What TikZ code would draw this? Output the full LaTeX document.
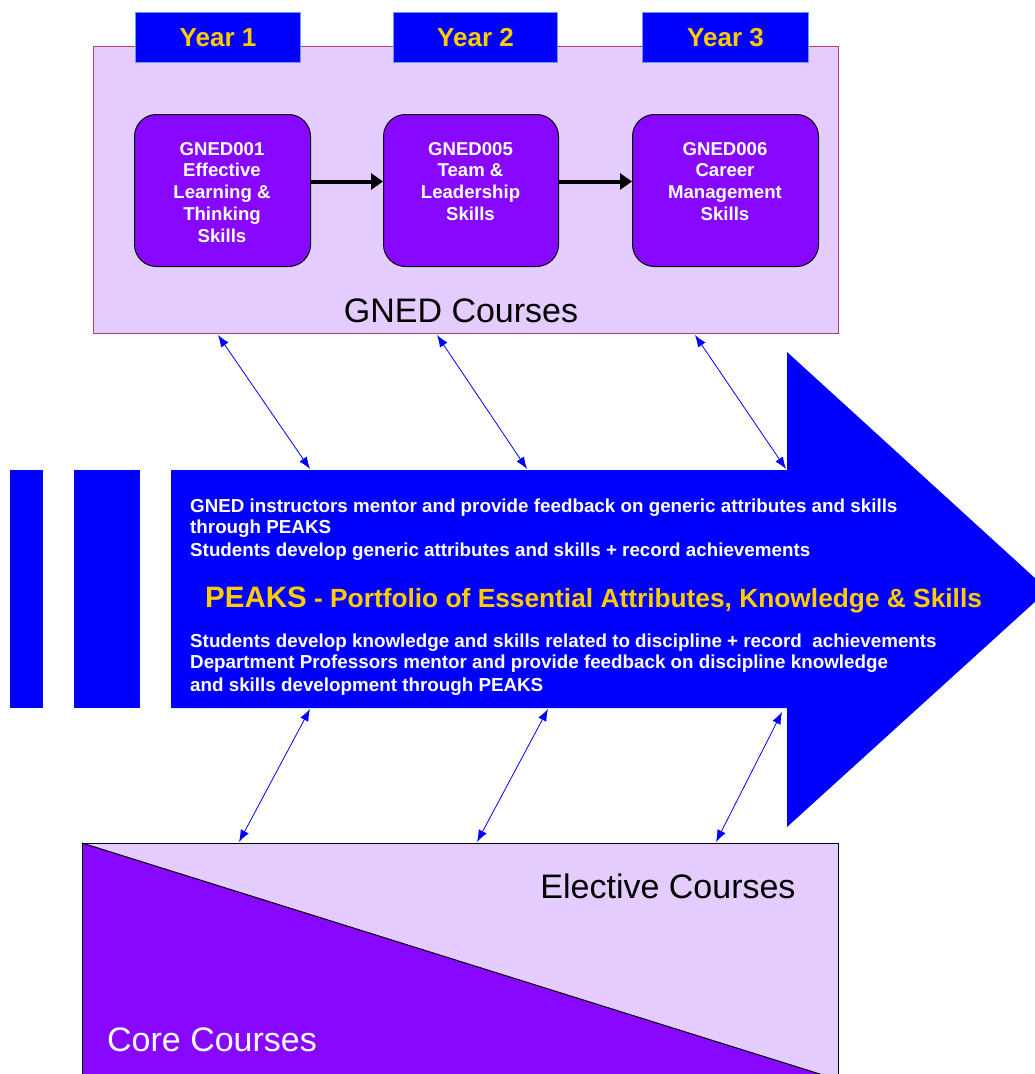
\documentclass[tikz,border=0pt]{standalone}
\usepackage{fontspec}
\setmainfont{Liberation Sans}
\usetikzlibrary{arrows.meta}
\definecolor{lav}{RGB}{229,204,255}
\definecolor{purp}{RGB}{136,8,255}
\definecolor{bblue}{RGB}{0,0,255}
\definecolor{gold}{RGB}{255,204,0}
\definecolor{mframe}{RGB}{176,64,112}
\definecolor{lblue}{RGB}{110,150,255}
\tikzset{
  yearbox/.style={draw=lblue, line width=1pt, fill=bblue, text=gold, inner sep=0pt,
    minimum height=50pt, anchor=north west, font=\fontsize{26}{30}\selectfont\bfseries},
  coursebox/.style={draw=black, line width=1pt, fill=purp, rounded corners=22pt,
    inner sep=0pt, minimum height=152pt, anchor=north west},
  coursetext/.style={text=white, align=center, inner sep=0pt, anchor=north,
    font=\fontsize{18.6}{21.75}\selectfont\bfseries},
  flowarrow/.style={draw=black, line width=4pt, -{Triangle[length=12pt,width=16pt]}},
  linkarrow/.style={draw=bblue, line width=0.8pt, {Latex[length=12pt,width=9pt]}-{Latex[length=12pt,width=9pt]}},
  peakstext/.style={text=white, inner sep=0pt, anchor=base west,
    font=\fontsize{18.8}{22}\selectfont\bfseries},
  bigtext/.style={inner sep=0pt, anchor=base, font=\fontsize{34}{38}\selectfont}
}
\begin{document}
\begin{tikzpicture}[x=1pt,y=-1pt]
\useasboundingbox (0,0) rectangle (1035,1074);
\clip (0,0) rectangle (1035,1074);

% GNED courses frame
\node[draw=mframe, fill=lav, line width=1pt, inner sep=0pt, anchor=north west,
      minimum width=745pt, minimum height=287pt] (gned) at (93,46) {};
\node[yearbox, minimum width=165pt] (y1) at (135,12) {Year 1};
\node[yearbox, minimum width=164pt] (y2) at (393,12) {Year 2};
\node[yearbox, minimum width=166pt] (y3) at (642,12) {Year 3};

\node[coursebox, minimum width=176pt] (c1) at (134,114) {};
\node[coursebox, minimum width=175pt] (c2) at (383,114) {};
\node[coursebox, minimum width=186pt] (c3) at (632,114) {};
\node[coursetext] (t1) at (222,142) {GNED001\\Effective\\Learning \&\\Thinking\\Skills};
\node[coursetext] (t2) at (470.5,142) {GNED005\\Team \&\\Leadership\\Skills};
\node[coursetext] (t3) at (725,142) {GNED006\\Career\\Management\\Skills};

\draw[flowarrow] ([yshift=9pt]c1.east) -- ([yshift=9pt]c2.west);
\draw[flowarrow] ([yshift=9pt]c2.east) -- ([yshift=9pt]c3.west);

\node[bigtext] (gnedlabel) at (461,322) {GNED Courses};

% PEAKS arrow
\fill[bblue] (10,470) rectangle (43,708);
\fill[bblue] (74,470) rectangle (140,708);
\fill[bblue] (171,470) -- (787,470) -- (787,352) -- (1048,590) -- (787,827) -- (787,708) -- (171,708) -- cycle;

\node[peakstext] (l1) at (190,512) {GNED instructors mentor and provide feedback on generic attributes and skills};
\node[peakstext] (l2) at (190,533) {through PEAKS};
\node[peakstext] (l3) at (190,556) {Students develop generic attributes and skills + record achievements};
\node[inner sep=0pt, anchor=base west, text=gold, font=\bfseries] (l4) at (205,607)
  {{\fontsize{29.5}{34}\selectfont PEAKS}{\fontsize{26.3}{30}\selectfont\ - Portfolio of Essential Attributes, Knowledge \& Skills}};
\node[peakstext] (l5) at (190,647) {Students develop knowledge and skills related to discipline + record\ \ achievements};
\node[peakstext] (l6) at (190,668) {Department Professors mentor and provide feedback on discipline knowledge};
\node[peakstext] (l7) at (190,691) {and skills development through PEAKS};

% bottom box
\fill[lav] (82,843) rectangle (838,1080);
\fill[purp] (82,843) -- (839,1080) -- (82,1080) -- cycle;
\draw[black, line width=1pt] (82,843) -- (839,1080);
\draw[black, line width=1pt] (82,1080) -- (82,843) -- (838,843) -- (838,1080);
\node[bigtext] (elective) at (668,898) {Elective Courses};
\node[bigtext, anchor=base west, text=white] (core) at (107,1051) {Core Courses};

% link arrows
\coordinate (ga1) at (218,335); \coordinate (pa1) at (310,469);
\coordinate (ga2) at (437,335); \coordinate (pa2) at (527,469);
\coordinate (ga3) at (695,335); \coordinate (pa3) at (786,469);
\coordinate (pb1) at (310,709); \coordinate (cb1) at (239,842);
\coordinate (pb2) at (548,709); \coordinate (cb2) at (477,842);
\coordinate (pb3) at (782,712); \coordinate (cb3) at (716,842);
\draw[linkarrow] (ga1) -- (pa1);
\draw[linkarrow] (ga2) -- (pa2);
\draw[linkarrow] (ga3) -- (pa3);
\draw[linkarrow] (pb1) -- (cb1);
\draw[linkarrow] (pb2) -- (cb2);
\draw[linkarrow] (pb3) -- (cb3);
\end{tikzpicture}
\end{document}
